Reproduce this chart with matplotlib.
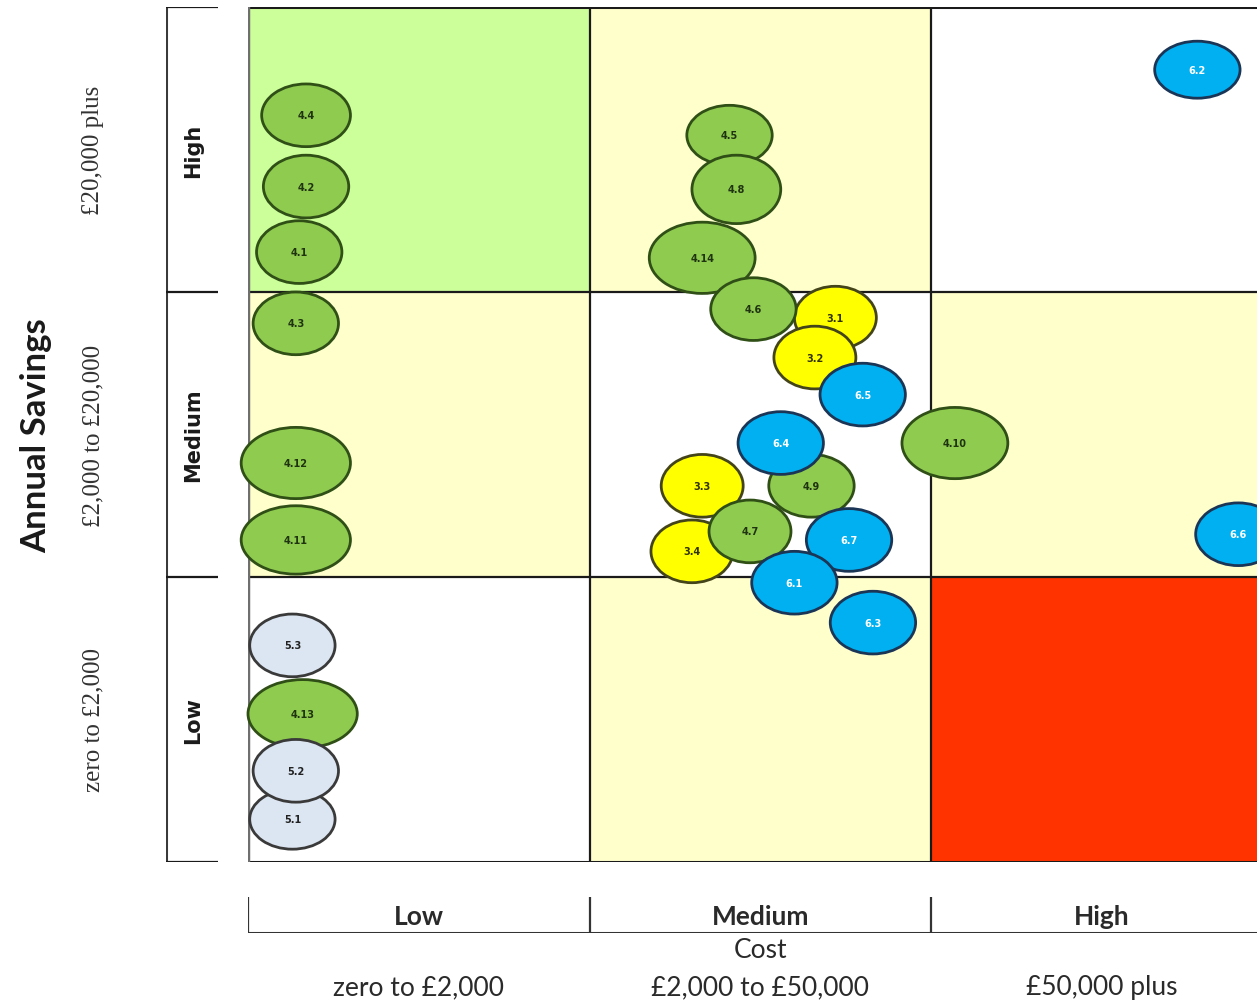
import matplotlib.pyplot as plt
from matplotlib.patches import Ellipse, Rectangle
import matplotlib.transforms as mtransforms

# Matrix categories
cost_levels = ['Low', 'Medium', 'High']
cost_ranges = ['zero to £2,000', '£2,000 to £50,000', '£50,000 plus']
saving_levels = ['Low', 'Medium', 'High']
saving_ranges = ['zero to £2,000', '£2,000 to £20,000', '£20,000 plus']

# Cell shading: rows = savings (low -> high), cols = cost (low -> high)
cell_colors = [
    ['#FFFFFF', '#FFFFCC', '#FF3300'],
    ['#FFFFCC', '#FFFFFF', '#FFFFCC'],
    ['#CCFF99', '#FFFFCC', '#FFFFFF'],
]

# Measures (in drawing order): label, cost position, savings position, bubble size
labels = ['4.4', '4.2', '4.1', '4.3', '4.12', '4.11', '5.3', '4.13', '5.1', '5.2',
          '4.5', '4.14', '4.8', '3.1', '4.6', '3.2', '6.5', '4.9', '6.4', '3.3',
          '3.4', '4.7', '6.7', '6.1', '6.3', '4.10', '6.2', '6.6']
cost = [0.17, 0.17, 0.15, 0.14, 0.14, 0.14, 0.13, 0.16, 0.13, 0.14,
        1.41, 1.33, 1.43, 1.72, 1.48, 1.66, 1.80, 1.65, 1.56, 1.33,
        1.30, 1.47, 1.76, 1.60, 1.83, 2.07, 2.78, 2.90]
savings = [2.62, 2.37, 2.14, 1.89, 1.40, 1.13, 0.76, 0.52, 0.15, 0.32,
           2.55, 2.12, 2.36, 1.91, 1.94, 1.77, 1.64, 1.32, 1.47, 1.32,
           1.09, 1.16, 1.13, 0.98, 0.84, 1.47, 2.78, 1.15]
bubble_w = [0.26, 0.25, 0.25, 0.25, 0.32, 0.32, 0.25, 0.32, 0.25, 0.25,
            0.25, 0.31, 0.26, 0.24, 0.25, 0.24, 0.25, 0.25, 0.25, 0.24,
            0.24, 0.24, 0.25, 0.25, 0.25, 0.31, 0.25, 0.25]
bubble_h = [0.22, 0.22, 0.22, 0.22, 0.25, 0.24, 0.22, 0.24, 0.21, 0.22,
            0.21, 0.25, 0.24, 0.22, 0.22, 0.22, 0.22, 0.22, 0.22, 0.22,
            0.22, 0.22, 0.22, 0.22, 0.22, 0.25, 0.20, 0.22]

# style per measure group (first digit of label)
face = {'3': '#FFFF00', '4': '#8FCB4F', '5': '#DCE6F2', '6': '#00B0F0'}
edge = {'3': '#44441A', '4': '#2F4F17', '5': '#3A3A3A', '6': '#1B3556'}
txt = {'3': '#333300', '4': '#1F3310', '5': '#222222', '6': '#FFFFFF'}

W, H = 1257, 1003
fig = plt.figure(figsize=(W / 100, H / 100), dpi=100)

def fx(px):
    return px / W

def fy(py):
    return 1 - py / H

# main grid: 248..1257 px wide, 8..863 px high, column width 341.5 px
ax = fig.add_axes([fx(248), fy(863), fx(1257) - fx(248), fy(8) - fy(863)])
ax.set_xlim(0, (1257 - 248) / 341.5)
ax.set_ylim(0, 3)
ax.axis('off')

for r in range(3):
    for c in range(3):
        ax.add_patch(Rectangle((c, r), 1, 1, facecolor=cell_colors[r][c],
                               edgecolor='none', zorder=0))
for v in [1, 2]:
    ax.axvline(v, color='#1a1a1a', lw=1.6, zorder=1)
    ax.axhline(v, color='#1a1a1a', lw=1.6, zorder=1)
ax.axhline(3, color='#1a1a1a', lw=2.2, zorder=1)
ax.axhline(0, color='#1a1a1a', lw=2.2, zorder=1)
ax.axvline(0, color='#6f6f6f', lw=3.2, zorder=1)

for lab, x, y, w, h in zip(labels, cost, savings, bubble_w, bubble_h):
    g = lab[0]
    ax.add_patch(Ellipse((x, y), w, h, facecolor=face[g], edgecolor=edge[g],
                         lw=2.0, zorder=2, clip_on=False))
    ax.text(x, y, lab, ha='center', va='center', fontsize=7, fontweight='bold',
            color=txt[g], zorder=3)

# left row label frame (166..218 px)
axl = fig.add_axes([fx(166), fy(863), fx(218) - fx(166), fy(8) - fy(863)])
axl.set_xlim(0, 1)
axl.set_ylim(0, 3)
axl.axis('off')
axl.axvline(0, color='#3a3a3a', lw=2.2)
for v in range(4):
    axl.axhline(v, color='#1a1a1a', lw=1.6)
for i, s in enumerate(saving_levels):
    axl.text(0.52, i + 0.5, s, rotation=90, ha='center', va='center',
             fontsize=15, fontweight='bold', color='#1a1a1a')

tl = mtransforms.blended_transform_factory(fig.transFigure, ax.transData)
for i, s in enumerate(saving_ranges):
    ax.text(fx(93), i + 0.5, s, transform=tl, rotation=90, ha='center',
            va='center', fontsize=18, color='#333333', family='Liberation Serif')
ax.text(fx(36), 1.5, 'Annual Savings', transform=tl, rotation=90, ha='center',
        va='center', fontsize=25, fontweight='bold', color='#1a1a1a',
        family='Lato')

# bottom cost scale (ticks 900..933 px)
axb = fig.add_axes([fx(248), fy(934), fx(1257) - fx(248), fy(898) - fy(934)])
axb.set_xlim(ax.get_xlim())
axb.set_ylim(0, 1)
axb.axis('off')
axb.axhline(0, color='#333333', lw=2.2)
for v in range(3):
    axb.axvline(v, color='#333333', lw=1.6)
for i, s in enumerate(cost_levels):
    axb.text(i + 0.5, 0.48, s, ha='center', va='center', fontsize=19,
             fontweight='bold', color='#2a2a2a', family='Lato')

tb = mtransforms.blended_transform_factory(ax.transData, fig.transFigure)
ax.text(1.5, fy(951), 'Cost', transform=tb, ha='center', va='center',
        fontsize=19, color='#2a2a2a', family='Lato')
for i, s in enumerate(cost_ranges):
    ax.text(i + 0.5, fy(988), s, transform=tb, ha='center', va='center',
            fontsize=19, color='#2a2a2a', family='Lato')

fig.savefig('out.png', dpi=100)
